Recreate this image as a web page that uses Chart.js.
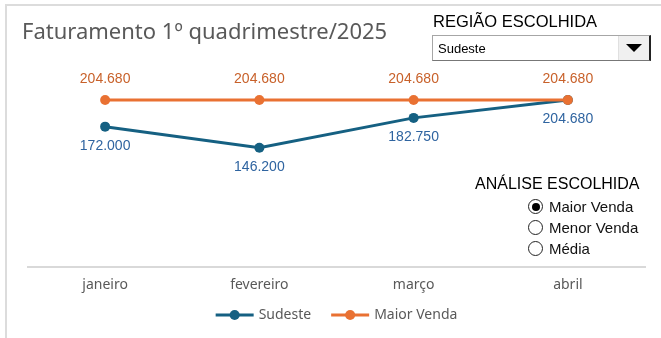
<!DOCTYPE html>
<html lang="pt-BR">
<head>
<meta charset="utf-8">
<script src="https://cdn.jsdelivr.net/npm/chart.js@4"></script>
<style>
  html, body { margin: 0; padding: 0; background: #fff; }
  #wrap { position: relative; width: 661px; height: 338px; overflow: hidden; background: #fff; }
  #frame { position: absolute; left: 5px; top: 4px; right: -4px; bottom: -4px;
           border-top: 2px solid #dcdcdc; border-left: 2px solid #dcdcdc; }
  #chart { position: absolute; left: 0; top: 0; width: 661px; height: 338px; }
  .title { position: absolute; left: 22px; top: 15px; font: 22px "Noto Sans", sans-serif;
           color: #595959; white-space: nowrap; }
  .hdr { position: absolute; font: 16px "Liberation Sans", Arial, sans-serif; color: #000; white-space: nowrap; }
  #combo { position: absolute; left: 432px; top: 35px; width: 219px; height: 26px;
           border: 1px solid #a6a6a6; border-right: 2px solid #222; border-bottom: 1px solid #777;
           box-sizing: border-box; background: #fff; }
  #combo span { position: absolute; left: 5px; top: 5px; font: 13px "Liberation Sans", Arial, sans-serif; color: #000; }
  #combo .btn { position: absolute; right: 0; top: 0; width: 30px; height: 24px; background: #f0f0f0;
                border-left: 1px solid #e0e0e0; }
  #combo .btn::after { content: ""; position: absolute; left: 7px; top: 8px; border-left: 8px solid transparent;
                       border-right: 8px solid transparent; border-top: 8px solid #000; }
  .radio { position: absolute; left: 528px; font: 15px "Liberation Sans", Arial, sans-serif; color: #111; white-space: nowrap; }
  .radio i { display: inline-block; width: 15px; height: 15px; border: 1px solid #222; border-radius: 50%;
             vertical-align: -2px; margin-right: 6px; box-sizing: border-box; position: relative; background: #fff; }
  .radio i.on::after { content: ""; position: absolute; left: 2.5px; top: 2.5px; width: 8px; height: 8px; border-radius: 50%; background: #000; }
</style>
</head>
<body>
<div id="wrap">
  <canvas id="chart" width="661" height="338"></canvas>
  <div id="frame"></div>
  <div class="title">Faturamento 1º quadrimestre/2025</div>
  <div class="hdr" style="left:433px; top:12px; font-size:16.5px;">REGIÃO ESCOLHIDA</div>
  <div id="combo"><span>Sudeste</span><div class="btn"></div></div>
  <div class="hdr" style="left:475px; top:175px;">ANÁLISE ESCOLHIDA</div>
  <div class="radio" style="top:198px;"><i class="on"></i>Maior Venda</div>
  <div class="radio" style="top:219px;"><i></i>Menor Venda</div>
  <div class="radio" style="top:240px;"><i></i>Média</div>
</div>
<script>
// Faturamento mensal por região e referência de análise
const meses = ['janeiro', 'fevereiro', 'março', 'abril'];
const regiao = 'Sudeste';
const sudeste = [172000, 146200, 182750, 204680];
const analise = 'Maior Venda';
const maiorVenda = [204680, 204680, 204680, 204680];

const AZUL = '#156082';
const LARANJA = '#E97132';
const AZUL_ROTULO = '#2f64a0';
const LARANJA_ROTULO = '#c8612a';

function fmt(v) {
  return String(v).replace(/\B(?=(\d{3})+(?!\d))/g, '.');
}

// Rótulos de dados: laranja acima do ponto, azul abaixo
const rotulos = {
  id: 'rotulos',
  afterDatasetsDraw(chart) {
    const ctx = chart.ctx;
    ctx.save();
    ctx.font = '14px "Liberation Sans", Arial, sans-serif';
    ctx.textAlign = 'center';
    ctx.textBaseline = 'middle';
    chart.data.datasets.forEach((ds, i) => {
      const meta = chart.getDatasetMeta(i);
      meta.data.forEach((pt, j) => {
        ctx.fillStyle = ds.rotuloCor;
        ctx.fillText(fmt(ds.data[j]), pt.x, pt.y + (ds.rotuloAcima ? -21 : 19));
      });
    });
    ctx.restore();
  }
};

// Legenda com linha e marcador, centralizada na área do gráfico
const legenda = {
  id: 'legenda',
  afterDraw(chart) {
    const ctx = chart.ctx;
    const area = chart.chartArea;
    ctx.save();
    ctx.font = '14px "Noto Sans", sans-serif';
    ctx.textBaseline = 'middle';
    const sym = 38, gap = 5, sep = 20;
    const itens = chart.data.datasets.map(ds => ({ ds, w: sym + gap + ctx.measureText(ds.label).width }));
    const total = itens.reduce((s, it) => s + it.w, 0) + sep * (itens.length - 1);
    let x = (area.left + area.right) / 2 - total / 2;
    const y = 315;
    itens.forEach(it => {
      ctx.strokeStyle = it.ds.borderColor;
      ctx.lineWidth = 3;
      ctx.beginPath();
      ctx.moveTo(x, y);
      ctx.lineTo(x + sym, y);
      ctx.stroke();
      ctx.fillStyle = it.ds.borderColor;
      ctx.beginPath();
      ctx.arc(x + sym / 2, y, 5, 0, Math.PI * 2);
      ctx.fill();
      ctx.fillStyle = '#595959';
      ctx.fillText(it.ds.label, x + sym + gap, y);
      x += it.w + sep;
    });
    ctx.restore();
  }
};

new Chart(document.getElementById('chart'), {
  type: 'line',
  data: {
    labels: meses,
    datasets: [
      {
        label: regiao, data: sudeste, order: 1,
        borderColor: AZUL, backgroundColor: AZUL, borderWidth: 3,
        pointRadius: 5, pointBackgroundColor: AZUL, pointBorderWidth: 0,
        rotuloCor: AZUL_ROTULO, rotuloAcima: false
      },
      {
        label: analise, data: maiorVenda, order: 0,
        borderColor: LARANJA, backgroundColor: LARANJA, borderWidth: 3,
        pointRadius: 5, pointBackgroundColor: LARANJA, pointBorderWidth: 0,
        rotuloCor: LARANJA_ROTULO, rotuloAcima: true
      }
    ]
  },
  options: {
    responsive: false,
    animation: false,
    layout: { padding: { left: 28, right: 16, top: 63, bottom: 0 } },
    plugins: { legend: { display: false }, tooltip: { enabled: false }, title: { display: false } },
    scales: {
      x: {
        offset: true,
        grid: { display: false, drawTicks: false },
        border: { display: true, color: '#d9d9d9', width: 2 },
        ticks: { color: '#595959', padding: 10, font: { family: '"Noto Sans", sans-serif', size: 14 } },
        afterFit(scale) { scale.height = 71; }
      },
      y: { display: false, min: 0, max: 250000 }
    }
  },
  plugins: [rotulos, legenda]
});
</script>
</body>
</html>
